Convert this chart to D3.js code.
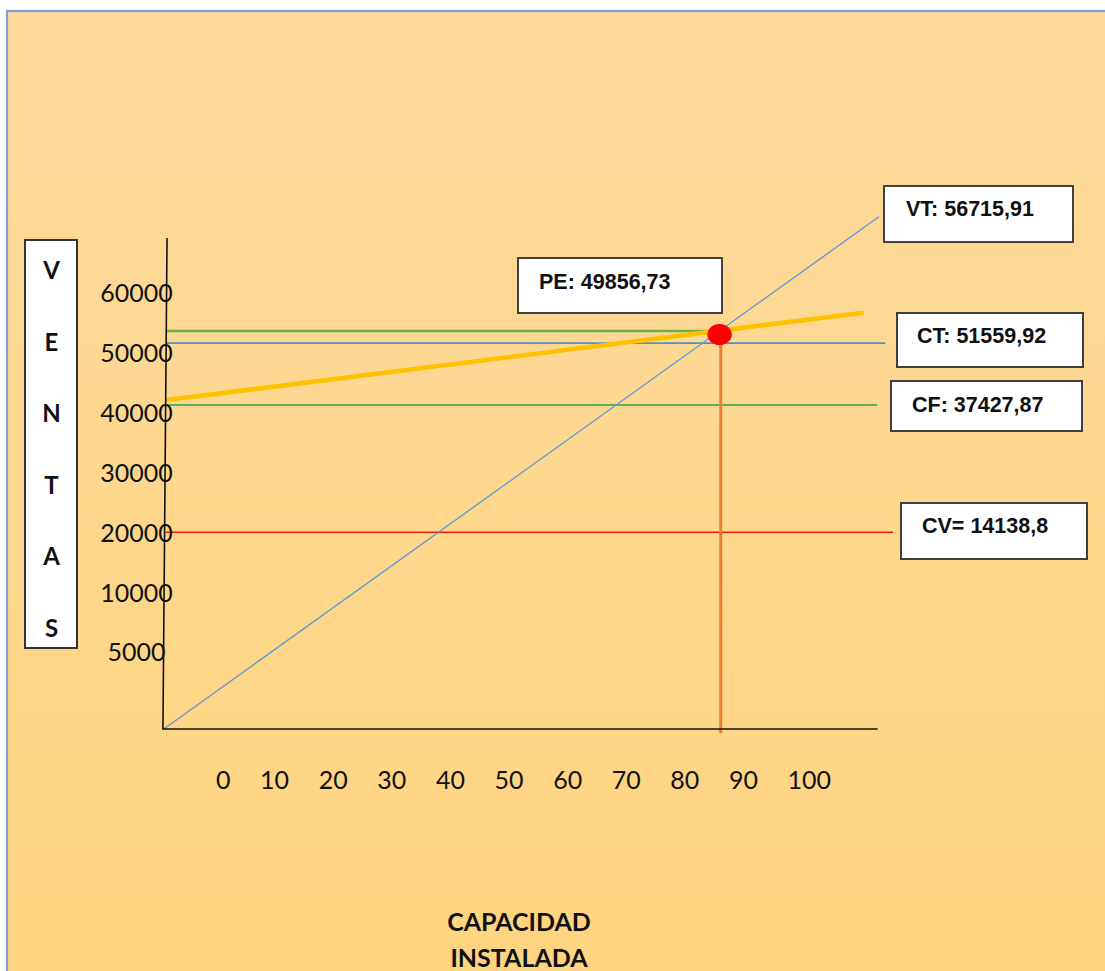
<!DOCTYPE html>
<html>
<head>
<meta charset="utf-8">
<script src="https://cdn.jsdelivr.net/npm/d3@7"></script>
<style>
  html, body { margin: 0; padding: 0; background: #ffffff; }
  svg { display: block; }
</style>
</head>
<body>
<svg id="chart" width="1105" height="971"></svg>
<script>
// ---- Data -------------------------------------------------------------
// Axis tick labels
const xTicks = [0, 10, 20, 30, 40, 50, 60, 70, 80, 90, 100];
const yTicks = [60000, 50000, 40000, 30000, 20000, 10000, 5000];

// Axis extents (capacity %, ventas)
const capacityExtent = [-9.2, 113.0];
const ventasAxisTop = 69070;

// Ventas totales (diagonal from the origin)
const vtCapacity = [-8.9, 113.2];
const vtVentas = [0, 72600];

// Costo total (rising line starting at the fixed cost level)
const ctCapacity = [-8.5, 110.6];
const ctVentas = [42100, 56640];

// Horizontal reference lines
const levelNames = ["PE", "CT", "CF", "CV"];
const levelValues = [53600, 51559.92, 41280, 20100];
const levelEnds = [86.0, 114.3, 112.9, 115.6];

// Break-even point
const peCapacity = 86.0;
const peVentas = 53000;
const peDropCapacity = 86.2;
const peDropBottom = -260;

// Callout texts
const calloutNames = ["VT", "PE", "CT", "CF", "CV"];
const calloutTexts = ["VT: 56715,91", "PE: 49856,73", "CT: 51559,92", "CF: 37427,87", "CV= 14138,8"];

// Axis titles
const yTitleLetters = ["V", "E", "N", "T", "A", "S"];
const xTitleLines = ["CAPACIDAD", "INSTALADA"];

// ---- Styles & layout --------------------------------------------------
const levelStyle = {
  PE: { color: "#70AD47", width: 2.6 },
  CT: { color: "#4F91CD", width: 1.8 },
  CF: { color: "#2EA043", width: 1.3 },
  CV: { color: "#FF1A00", width: 1.6 }
};
const calloutBoxes = {
  VT: { x: 884, y: 186, w: 189, h: 56, tx: 906, ty: 216 },
  PE: { x: 518, y: 258, w: 204, h: 55, tx: 539, ty: 289 },
  CT: { x: 897, y: 313, w: 186, h: 54, tx: 917, ty: 343 },
  CF: { x: 891, y: 381, w: 191, h: 50, tx: 912, ty: 412 },
  CV: { x: 901, y: 503, w: 186, h: 56, tx: 922, ty: 533 }
};
const tickFont = "Lato, 'Open Sans', sans-serif";
const xTickGap = 29.6;   // blank space between consecutive x labels

const svg = d3.select("#chart");

// Page background with soft vertical gradient and blue frame
const defs = svg.append("defs");
const grad = defs.append("linearGradient")
  .attr("id", "bg").attr("x1", 0).attr("y1", 0).attr("x2", 0).attr("y2", 1);
grad.append("stop").attr("offset", "0%").attr("stop-color", "#FDDA9C");
grad.append("stop").attr("offset", "100%").attr("stop-color", "#FFD47F");

svg.append("rect")
  .attr("x", 7).attr("y", 11)
  .attr("width", 1110).attr("height", 980)
  .attr("fill", "url(#bg)")
  .attr("stroke", "#809ED7").attr("stroke-width", 2.2);

// ---- Scales -----------------------------------------------------------
const x = d3.scaleLinear().domain([10, 90]).range([274.5, 743]);
// Broken y axis: the bottom band (0–10000) is drawn taller than the rest
const y = d3.scaleLinear()
  .domain([0, 5000, 10000, 60000])
  .range([729, 652, 593, 292.5]);

const line = d3.line().x(d => x(d[0])).y(d => y(d[1]));
const plot = svg.append("g");

// Horizontal reference lines
plot.selectAll("line.level")
  .data(levelNames)
  .join("line")
  .attr("class", "level")
  .attr("x1", x(-8.6))
  .attr("x2", (d, i) => x(levelEnds[i]))
  .attr("y1", (d, i) => y(levelValues[i]))
  .attr("y2", (d, i) => y(levelValues[i]))
  .attr("stroke", d => levelStyle[d].color)
  .attr("stroke-width", d => levelStyle[d].width);

// Ventas totales diagonal
plot.append("path")
  .attr("d", line(d3.zip(vtCapacity, vtVentas)))
  .attr("fill", "none")
  .attr("stroke", "#5B9BD5")
  .attr("stroke-width", 1.3);

// Costo total line
plot.append("path")
  .attr("d", line(d3.zip(ctCapacity, ctVentas)))
  .attr("fill", "none")
  .attr("stroke", "#FFC000")
  .attr("stroke-width", 4.6);

// Drop line from the break-even point
plot.append("line")
  .attr("x1", x(peDropCapacity)).attr("x2", x(peDropCapacity))
  .attr("y1", y(peVentas)).attr("y2", y(peDropBottom))
  .attr("stroke", "#ED7D31")
  .attr("stroke-width", 3);

// Axes
plot.append("path")
  .attr("d", line([[capacityExtent[0] + 0.85, ventasAxisTop], [capacityExtent[0] + 0.15, 0], [capacityExtent[1], 0]]))
  .attr("fill", "none")
  .attr("stroke", "#111")
  .attr("stroke-width", 1.6);

// Break-even marker
plot.append("ellipse")
  .attr("cx", x(peCapacity))
  .attr("cy", y(peVentas))
  .attr("rx", 12.2).attr("ry", 10.6)
  .attr("fill", "#FF0000");

// Y tick labels
svg.append("g").selectAll("text")
  .data(yTicks)
  .join("text")
  .attr("x", 136.5)
  .attr("y", d => y(d) + 9)
  .attr("text-anchor", "middle")
  .attr("font-family", tickFont)
  .attr("font-size", 25)
  .attr("fill", "#111")
  .text(d => d);

// X tick labels: a row of numbers separated by equal blank gaps,
// starting at the position of the first tick
const xLabels = svg.append("g").selectAll("text")
  .data(xTicks)
  .join("text")
  .attr("y", 789)
  .attr("font-family", tickFont)
  .attr("font-size", 25)
  .attr("fill", "#111")
  .text(d => d);
let cursor = x(xTicks[0]);
xLabels.each(function () {
  d3.select(this).attr("x", cursor);
  cursor += this.getComputedTextLength() + xTickGap;
});

// Vertical axis title box
svg.append("rect")
  .attr("x", 25).attr("y", 240).attr("width", 52).attr("height", 408)
  .attr("fill", "#fff").attr("stroke", "#333").attr("stroke-width", 2);

const letterY = d3.scalePoint().domain(d3.range(yTitleLetters.length)).range([270, 628]);
svg.append("g").selectAll("text")
  .data(yTitleLetters)
  .join("text")
  .attr("x", 51.5)
  .attr("y", (d, i) => letterY(i) + 9)
  .attr("text-anchor", "middle")
  .attr("font-family", "Lato, sans-serif")
  .attr("font-weight", "bold")
  .attr("font-size", 24)
  .attr("fill", "#111")
  .text(d => d);

// Horizontal axis title
svg.append("g").selectAll("text")
  .data(xTitleLines)
  .join("text")
  .attr("x", 519)
  .attr("y", (d, i) => 930.5 + i * 36.5)
  .attr("text-anchor", "middle")
  .attr("font-family", "Lato, sans-serif")
  .attr("font-weight", "bold")
  .attr("font-size", 25)
  .attr("fill", "#111")
  .text(d => d);

// Callout boxes
const callouts = svg.append("g").selectAll("g")
  .data(calloutNames)
  .join("g");
callouts.append("rect")
  .attr("x", d => calloutBoxes[d].x)
  .attr("y", d => calloutBoxes[d].y)
  .attr("width", d => calloutBoxes[d].w)
  .attr("height", d => calloutBoxes[d].h)
  .attr("fill", "#fff")
  .attr("stroke", "#404040")
  .attr("stroke-width", 2);
callouts.append("text")
  .attr("x", d => calloutBoxes[d].tx)
  .attr("y", d => calloutBoxes[d].ty)
  .attr("font-family", "'Liberation Sans', Arial, sans-serif")
  .attr("font-weight", "bold")
  .attr("font-size", 21.5)
  .attr("fill", "#111")
  .text((d, i) => calloutTexts[i]);
</script>
</body>
</html>
